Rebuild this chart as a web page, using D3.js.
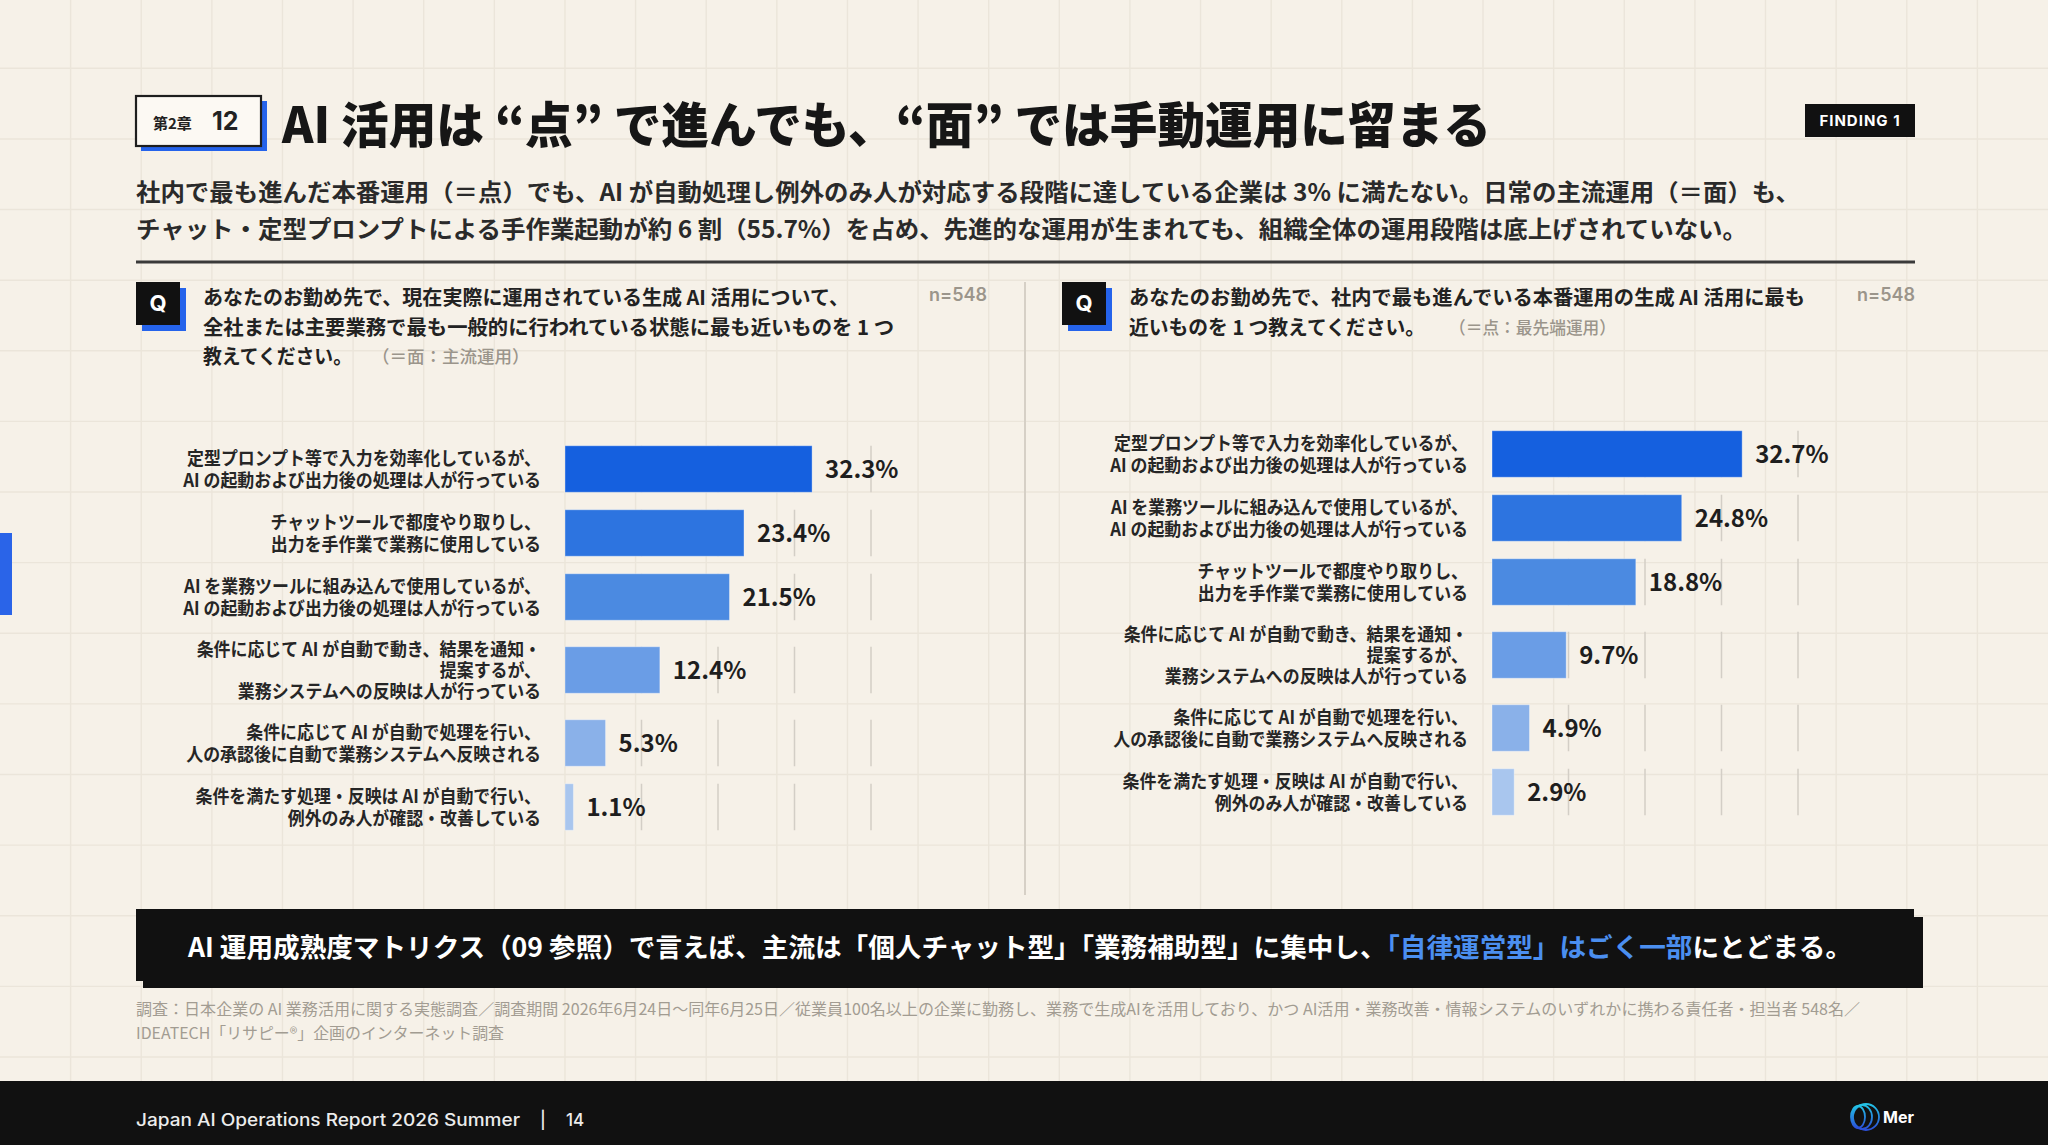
<!DOCTYPE html>
<html><head><meta charset="utf-8">
<script src="https://cdn.jsdelivr.net/npm/d3@7/dist/d3.min.js"></script>
<style>
html,body{margin:0;padding:0;background:#f6f1e8;overflow:hidden}
svg{display:block}
</style></head>
<body><svg id="c" width="2048" height="1145"></svg>
<script>
// ---------- data ----------
const titleText = "AI 活用は “点” で進んでも、“面” では手動運用に留まる";
const chapterLabel = "第2章";
const chapterNo = "12";
const findingLabel = "FINDING 1";
const subtitleLines = [
  "社内で最も進んだ本番運用（＝点）でも、AI が自動処理し例外のみ人が対応する段階に達している企業は 3% に満たない。日常の主流運用（＝面）も、",
  "チャット・定型プロンプトによる手作業起動が約 6 割（55.7%）を占め、先進的な運用が生まれても、組織全体の運用段階は底上げされていない。"
];
const leftQuestion = [
  "あなたのお勤め先で、現在実際に運用されている生成 AI 活用について、",
  "全社または主要業務で最も一般的に行われている状態に最も近いものを 1 つ",
  "教えてください。"
];
const leftQuestionNote = "（＝面：主流運用）";
const rightQuestion = [
  "あなたのお勤め先で、社内で最も進んでいる本番運用の生成 AI 活用に最も",
  "近いものを 1 つ教えてください。"
];
const rightQuestionNote = "（＝点：最先端運用）";
const sampleLabel = "n=548";

const leftCategories = [
  "定型プロンプト等で入力を効率化しているが、\nAI の起動および出力後の処理は人が行っている",
  "チャットツールで都度やり取りし、\n出力を手作業で業務に使用している",
  "AI を業務ツールに組み込んで使用しているが、\nAI の起動および出力後の処理は人が行っている",
  "条件に応じて AI が自動で動き、結果を通知・\n提案するが、\n業務システムへの反映は人が行っている",
  "条件に応じて AI が自動で処理を行い、\n人の承認後に自動で業務システムへ反映される",
  "条件を満たす処理・反映は AI が自動で行い、\n例外のみ人が確認・改善している"
];
const leftValues = [32.3, 23.4, 21.5, 12.4, 5.3, 1.1];

const rightCategories = [
  "定型プロンプト等で入力を効率化しているが、\nAI の起動および出力後の処理は人が行っている",
  "AI を業務ツールに組み込んで使用しているが、\nAI の起動および出力後の処理は人が行っている",
  "チャットツールで都度やり取りし、\n出力を手作業で業務に使用している",
  "条件に応じて AI が自動で動き、結果を通知・\n提案するが、\n業務システムへの反映は人が行っている",
  "条件に応じて AI が自動で処理を行い、\n人の承認後に自動で業務システムへ反映される",
  "条件を満たす処理・反映は AI が自動で行い、\n例外のみ人が確認・改善している"
];
const rightValues = [32.7, 24.8, 18.8, 9.7, 4.9, 2.9];

const rankColors = ["#1560df", "#2d74e0", "#4b8ae1", "#6a9de6", "#8ab1e9", "#a9c6ee"];
const gridTicks = [10, 20, 30, 40];
const xDomain = [0, 40];

const calloutMain = "AI 運用成熟度マトリクス（09 参照）で言えば、主流は「個人チャット型」「業務補助型」に集中し、";
const calloutHighlight = "「自律運営型」はごく一部";
const calloutEnd = "にとどまる。";
const footnoteLines = [
  "調査：日本企業の AI 業務活用に関する実態調査／調査期間 2026年6月24日〜同年6月25日／従業員100名以上の企業に勤務し、業務で生成AIを活用しており、かつ AI活用・業務改善・情報システムのいずれかに携わる責任者・担当者 548名／",
  "IDEATECH「リサピー®」企画のインターネット調査"
];
const footerText = "Japan AI Operations Report 2026 Summer";
const footerPage = "14";
const logoText = "Mer";

// ---------- drawing ----------
const W = 2048, H = 1145;
const JP = "'Noto Sans CJK JP','Noto Sans',sans-serif";
const LAT = "Inter,'Noto Sans',sans-serif";
const svg = d3.select("#c");

function fit(sel, target) {
  const n = sel.node();
  const l = n.getComputedTextLength();
  if (Math.abs(l - target) > 1.5) sel.attr("textLength", target).attr("lengthAdjust", "spacingAndGlyphs");
  return sel;
}

// background
svg.append("rect").attr("width", W).attr("height", H).attr("fill", "#f6f1e8");
const grid = svg.append("g").attr("stroke", "#ebe5da").attr("stroke-width", 1.4);
const gs = W / 29;
d3.range(1, 29).forEach(k => grid.append("line").attr("x1", k * gs).attr("x2", k * gs).attr("y1", 0).attr("y2", 1081));
d3.range(1, 16).forEach(k => { const y = k * gs - 2.3; if (y < 1081) grid.append("line").attr("x1", 0).attr("x2", W).attr("y1", y).attr("y2", y); });

// left edge accent
svg.append("rect").attr("x", 0).attr("y", 533).attr("width", 12).attr("height", 82).attr("fill", "#2a64e8");

// chapter box
svg.append("rect").attr("x", 141).attr("y", 101).attr("width", 126).attr("height", 50).attr("fill", "#2563eb");
svg.append("rect").attr("x", 136).attr("y", 96).attr("width", 125).attr("height", 50).attr("fill", "#fcf9f3").attr("stroke", "#1e1e1e").attr("stroke-width", 2.2);
svg.append("text").attr("x", 153).attr("y", 129).attr("font-family", JP).attr("font-weight", 700).attr("font-size", 15).attr("fill", "#222").text(chapterLabel);
svg.append("text").attr("x", 212).attr("y", 130).attr("font-family", LAT).attr("font-weight", 700).attr("font-size", 25).attr("fill", "#222").text(chapterNo);

// title
fit(svg.append("text").attr("x", 282).attr("y", 143).attr("font-family", JP).attr("font-weight", 900).attr("font-size", 49).attr("fill", "#161616").text(titleText), 1209);

// finding badge
svg.append("rect").attr("x", 1805).attr("y", 104).attr("width", 110).attr("height", 33).attr("fill", "#111");
svg.append("text").attr("x", 1860).attr("y", 126).attr("text-anchor", "middle").attr("font-family", LAT).attr("font-weight", 700).attr("font-size", 15).attr("letter-spacing", 1).attr("fill", "#fff").text(findingLabel);

// subtitle
const subW = [1664, 1611];
subtitleLines.forEach((t, i) => fit(svg.append("text").attr("x", 136).attr("y", 201 + i * 37).attr("font-family", JP).attr("font-weight", 700).attr("font-size", 23.5).attr("fill", "#2a2a2a").text(t), subW[i]));

// divider
svg.append("line").attr("x1", 136).attr("x2", 1915).attr("y1", 262).attr("y2", 262).attr("stroke", "#3a3a3a").attr("stroke-width", 3);
// separator
svg.append("line").attr("x1", 1025).attr("x2", 1025).attr("y1", 282).attr("y2", 895).attr("stroke", "#d6d0c6").attr("stroke-width", 2);

// question blocks
function qBlock(x0, lines, widths, note, noteX, noteW, nRight) {
  svg.append("rect").attr("x", x0 + 6).attr("y", 288).attr("width", 44).attr("height", 43).attr("fill", "#2563eb");
  svg.append("rect").attr("x", x0).attr("y", 282).attr("width", 44).attr("height", 43).attr("fill", "#111");
  svg.append("text").attr("x", x0 + 22).attr("y", 311).attr("text-anchor", "middle").attr("font-family", LAT).attr("font-weight", 700).attr("font-size", 22).attr("fill", "#fff").text("Q");
  const tx = x0 + 67;
  lines.forEach((t, i) => fit(svg.append("text").attr("x", tx).attr("y", 305 + i * 29.5).attr("font-family", JP).attr("font-weight", 700).attr("font-size", 20.5).attr("fill", "#222").text(t), widths[i]));
  const ly = 305 + (lines.length - 1) * 29.5;
  fit(svg.append("text").attr("x", noteX).attr("y", ly - 1).attr("font-family", JP).attr("font-weight", 500).attr("font-size", 17.5).attr("fill", "#9b958b").text(note), noteW);
  svg.append("text").attr("x", nRight).attr("y", 301).attr("text-anchor", "end").attr("font-family", LAT).attr("font-weight", 600).attr("font-size", 18).attr("fill", "#9b958b").text(sampleLabel);
}
qBlock(136, leftQuestion, [646, 691, 149], leftQuestionNote, 372, 156, 987);
qBlock(1062, rightQuestion, [676, 296], rightQuestionNote, 1449, 167, 1915);

// bar charts
function barChart(cats, vals, x0, top) {
  const lineH = 21.5, barH = 46.5, pad = 17.5;
  const rows = cats.map((c, i) => {
    const lines = c.split("\n");
    const h = Math.max(barH, lines.length * lineH) + pad;
    return { lines, v: vals[i], h, i };
  });
  let acc = top;
  rows.forEach(r => { r.cy = acc + r.h / 2; acc += r.h; });
  const x = d3.scaleLinear().domain(xDomain).range([x0, x0 + 306]);
  const g = svg.append("g");
  // grid segments
  rows.forEach(r => {
    g.selectAll(null).data(gridTicks).join("line")
      .attr("x1", d => x(d)).attr("x2", d => x(d))
      .attr("y1", r.cy - barH / 2).attr("y2", r.cy + barH / 2)
      .attr("stroke", "#d3cec6").attr("stroke-width", 1.5);
  });
  g.selectAll("rect.bar").data(rows).join("rect").attr("class", "bar")
    .attr("x", x(0)).attr("y", d => d.cy - barH / 2)
    .attr("width", d => x(d.v) - x(0)).attr("height", barH)
    .attr("fill", d => rankColors[d.i])
    .attr("stroke", "rgba(255,255,255,0.35)").attr("stroke-width", 1);
  g.selectAll("text.val").data(rows).join("text").attr("class", "val")
    .attr("x", d => x(d.v) + 13).attr("y", d => d.cy + 9)
    .attr("font-family", JP).attr("font-weight", 700).attr("font-size", 24).attr("fill", "#1e1e1e")
    .text(d => d.v.toFixed(1) + "%");
  // category labels: one text per row, lines as tspans, slightly condensed
  rows.forEach(r => {
    const n = r.lines.length;
    const y0 = r.cy - (n - 1) / 2 * lineH + 7;
    const t = g.append("text")
      .attr("transform", `translate(${x0 - 24},${y0}) scale(0.915,1)`)
      .attr("text-anchor", "end").attr("font-family", JP).attr("font-weight", 700)
      .attr("font-size", 18.5).attr("fill", "#262626");
    r.lines.forEach((s, j) => t.append("tspan").attr("x", 0).attr("y", j * lineH).text(s));
  });
}
barChart(leftCategories, leftValues, 565, 437);
barChart(rightCategories, rightValues, 1492, 422);

// callout box
svg.append("rect").attr("x", 143).attr("y", 917).attr("width", 1780).attr("height", 71).attr("fill", "#111");
svg.append("rect").attr("x", 136).attr("y", 909).attr("width", 1778).attr("height", 72).attr("fill", "#111");
const ct = svg.append("text").attr("x", 1020).attr("y", 957).attr("text-anchor", "middle")
  .attr("font-family", JP).attr("font-weight", 700).attr("font-size", 26.5).attr("fill", "#fff");
ct.append("tspan").text(calloutMain);
ct.append("tspan").attr("fill", "#4b8ff0").text(calloutHighlight);
ct.append("tspan").text(calloutEnd);
fit(ct, 1664);

// footnote
const fnW = [1724, 368];
footnoteLines.forEach((t, i) => fit(svg.append("text").attr("x", 136).attr("y", 1015 + i * 23.5).attr("font-family", JP).attr("font-weight", 400).attr("font-size", 15.5).attr("fill", "#a29c92").text(t), fnW[i]));

// footer
svg.append("rect").attr("x", 0).attr("y", 1081).attr("width", W).attr("height", H - 1081).attr("fill", "#111");
fit(svg.append("text").attr("x", 136).attr("y", 1126).attr("font-family", LAT).attr("font-weight", 500).attr("font-size", 17).attr("fill", "#ececec").text(footerText), 384);
svg.append("text").attr("x", 543).attr("y", 1126).attr("text-anchor", "middle").attr("font-family", LAT).attr("font-weight", 500).attr("font-size", 17).attr("fill", "#ececec").text("|");
svg.append("text").attr("x", 566).attr("y", 1126).attr("font-family", LAT).attr("font-weight", 500).attr("font-size", 17).attr("fill", "#ececec").text(footerPage);

// logo
const defs = svg.append("defs");
const lg = defs.append("linearGradient").attr("id", "lg").attr("x1", 0).attr("y1", 0).attr("x2", 0).attr("y2", 1);
lg.append("stop").attr("offset", 0).attr("stop-color", "#22c3e6");
lg.append("stop").attr("offset", 1).attr("stop-color", "#2b4fd8");
const logo = svg.append("g").attr("fill", "none").attr("stroke", "url(#lg)").attr("stroke-width", 1.8);
[[1866, 13, 13], [1862, 10, 12], [1858, 7, 11]].forEach(([cx, rx, ry]) => logo.append("ellipse").attr("cx", cx).attr("cy", 1117).attr("rx", rx).attr("ry", ry));
svg.append("text").attr("x", 1883).attr("y", 1123).attr("font-family", LAT).attr("font-weight", 700).attr("font-size", 16).attr("fill", "#fff").text(logoText);
</script></body></html>
